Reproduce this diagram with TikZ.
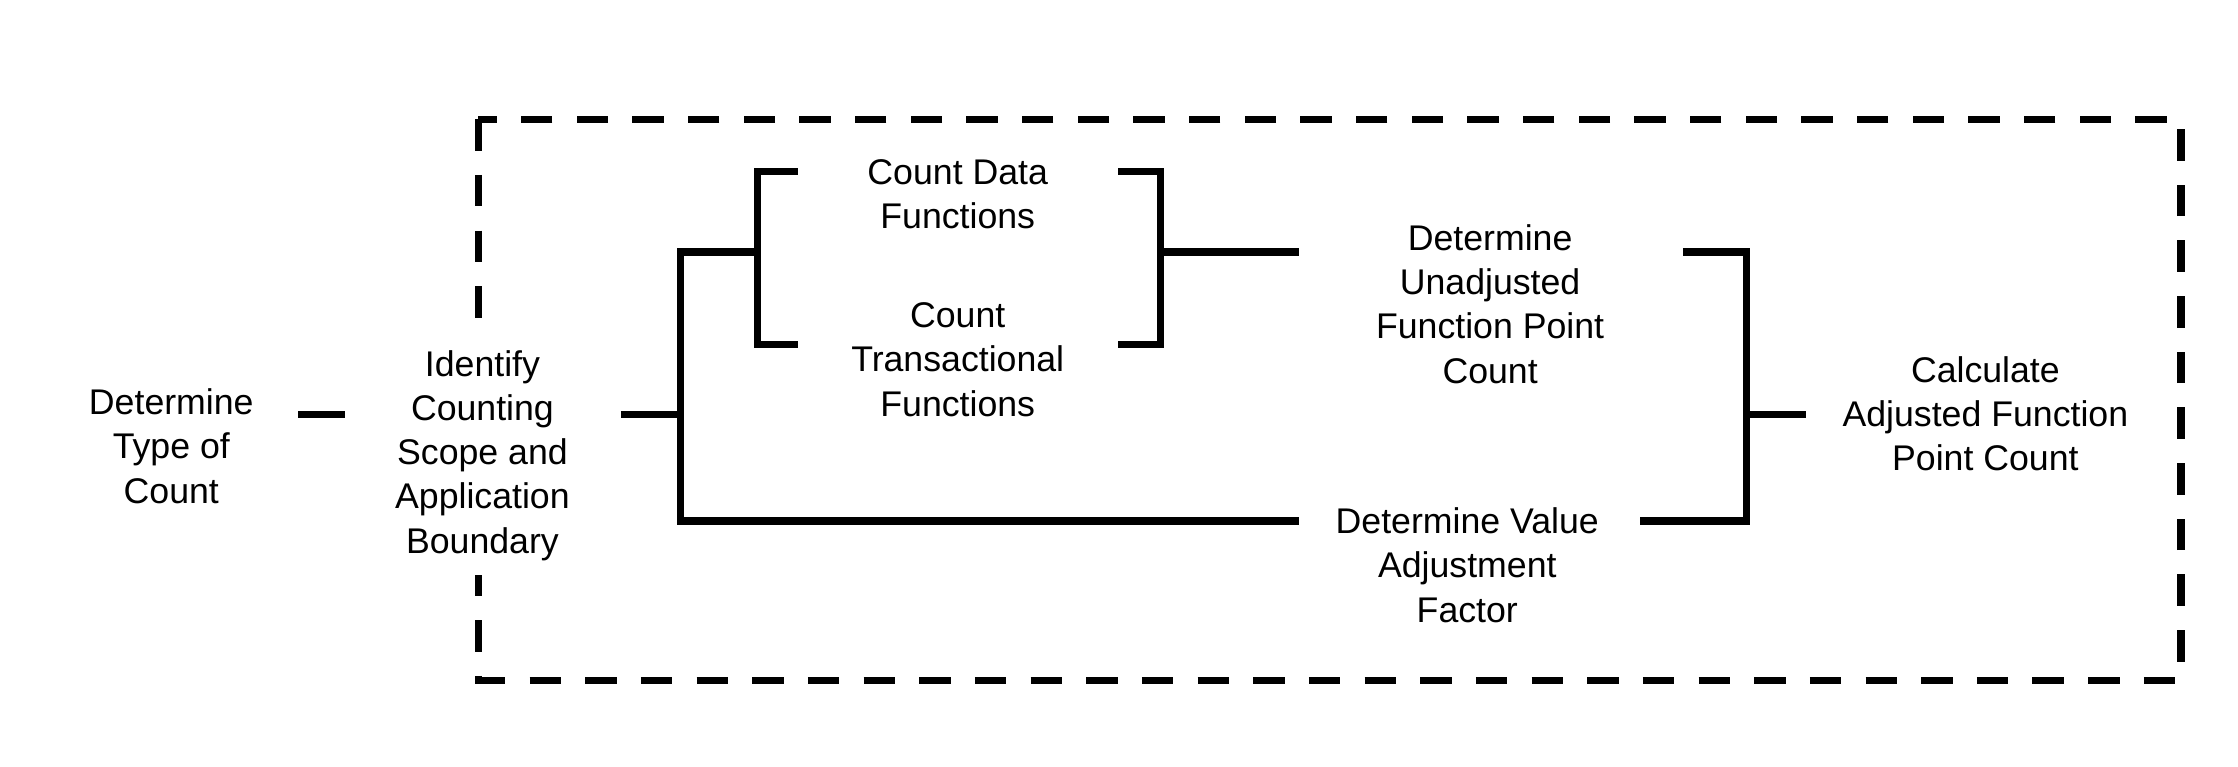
\documentclass[tikz,border=0pt]{standalone}
\usepackage{fontspec}
\setmainfont{Liberation Sans}
\usetikzlibrary{positioning}

\begin{document}
\begin{tikzpicture}[x=1pt,y=-1pt,line width=5pt,miter limit=4,
  every node/.style={align=center,inner sep=0pt,font=\fontsize{25}{31}\selectfont},
  boundary/.style={draw,dash pattern=on 22pt off 17pt}]
  \useasboundingbox (0,0) rectangle (1568,537);
  % counting scope
  \draw[boundary] (335,83.5) rectangle (1528,476.5);
  % steps
  \node (type) at (120,312.5) {Determine\\Type of\\Count};
  \node[fill=white,inner sep=10pt] (scope) at (338,319) {Identify\\Counting\\Scope and\\Application\\Boundary};
  \node (data) at (671,136) {Count Data\\Functions};
  \node (trans) at (671,252) {Count\\Transactional\\Functions};
  \node (ufp) at (1044,213) {Determine\\Unadjusted\\Function Point\\Count};
  \node (vaf) at (1028,396) {Determine Value\\Adjustment\\Factor};
  \node (afp) at (1391,290) {Calculate\\Adjusted Function\\Point Count};
  % line ends
  \coordinate (typeR) at (209,290.5);
  \coordinate (scopeL) at (242,290.5);
  \coordinate (scopeR) at (435,290.5);
  \coordinate (fork) at (476.5,290.5);
  \coordinate (forkT) at (476.5,176.6);
  \coordinate (forkB) at (476.5,365);
  \coordinate (brLmid) at (530.5,176.6);
  \coordinate (brRmid) at (813,176.6);
  \coordinate (ufpL) at (910,176.6);
  \coordinate (vafL) at (910,365);
  \coordinate (ufpR) at (1179,176.6);
  \coordinate (vafR) at (1149,365);
  \coordinate (joinT) at (1223.8,176.6);
  \coordinate (joinB) at (1223.8,365);
  \coordinate (join) at (1223.8,290.5);
  \coordinate (afpL) at (1265.6,290.5);
  % connectors
  \draw (typeR) -- (scopeL);
  \draw (scopeR) -- (fork);
  \draw (brLmid) -- (forkT) -- (forkB) -- (vafL);
  \draw (559,120) -- (530.5,120) -- (530.5,241.5) -- (559,241.5);
  \draw (783.5,120) -- (813,120) -- (813,241.5) -- (783.5,241.5);
  \draw (brRmid) -- (ufpL);
  \draw (ufpR) -- (joinT) -- (joinB) -- (vafR);
  \draw (join) -- (afpL);
\end{tikzpicture}
\end{document}
